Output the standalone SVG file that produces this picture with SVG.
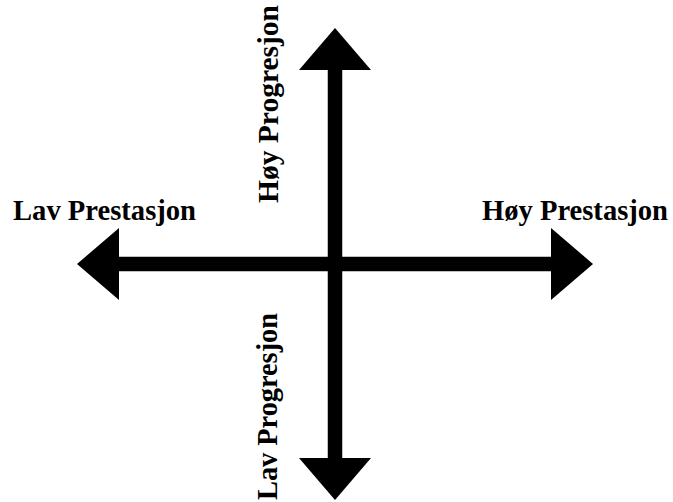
<svg xmlns="http://www.w3.org/2000/svg" width="673" height="502" viewBox="0 0 673 502">
  <style>
    .lbl { font-family: "Liberation Serif", "Times New Roman", serif; font-weight: bold; font-size: 29px; fill: #000; }
    .axis { stroke: #000; stroke-width: 14.5; fill: none; }
  </style>
  <defs>
    <marker id="head" markerUnits="userSpaceOnUse" markerWidth="42" markerHeight="72" viewBox="0 0 42 72" refX="0" refY="36" orient="auto-start-reverse">
      <path d="M0,0 L42,36 L0,72 Z" fill="#000"/>
    </marker>
  </defs>
  <g id="connectors">
    <line class="axis" x1="119" y1="264" x2="551" y2="264" marker-start="url(#head)" marker-end="url(#head)"/>
    <line class="axis" x1="335" y1="70" x2="335" y2="458" marker-start="url(#head)" marker-end="url(#head)"/>
  </g>
  <g id="lav-prestasjon">
    <text class="lbl" x="13" y="220" textLength="183" lengthAdjust="spacingAndGlyphs">Lav Prestasjon</text>
  </g>
  <g id="hoy-prestasjon">
    <text class="lbl" x="482" y="220" textLength="186" lengthAdjust="spacingAndGlyphs">Høy Prestasjon</text>
  </g>
  <g id="hoy-progresjon">
    <text class="lbl" transform="translate(278,203) rotate(-90)" x="0" y="0" textLength="198" lengthAdjust="spacingAndGlyphs">Høy Progresjon</text>
  </g>
  <g id="lav-progresjon">
    <text class="lbl" transform="translate(277,500) rotate(-90)" x="0" y="0" textLength="187" lengthAdjust="spacingAndGlyphs">Lav Progresjon</text>
  </g>
</svg>
